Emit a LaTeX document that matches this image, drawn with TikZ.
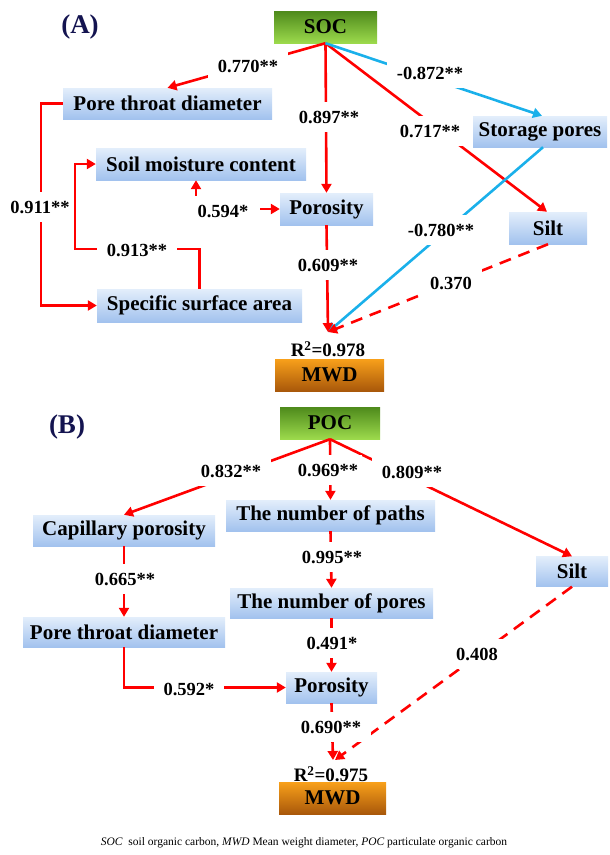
\documentclass[tikz,border=0pt]{standalone}
\usepackage{fontspec}
\setmainfont{Liberation Serif}
\usetikzlibrary{arrows.meta}
\definecolor{bTop}{HTML}{E3EEFB}
\definecolor{bBot}{HTML}{A2C2EE}
\definecolor{gTop}{HTML}{4E8A1C}
\definecolor{gBot}{HTML}{9CDA4C}
\definecolor{oTop}{HTML}{F8A01A}
\definecolor{oBot}{HTML}{A9580A}
\definecolor{lnRed}{HTML}{FF0000}
\definecolor{lnCyan}{HTML}{1AB0EA}
\definecolor{navy}{HTML}{141450}
\tikzset{
  bx/.style={minimum height=31pt, inner sep=0pt, draw=none, top color=bTop, bottom color=bBot,
    font=\bfseries\fontsize{21}{21}\selectfont},
  gbx/.style={bx, top color=gTop, bottom color=gBot},
  obx/.style={bx, top color=oTop, bottom color=oBot},
  lbl/.style={font=\bfseries\fontsize{18.5}{18.5}\selectfont, fill=white, inner xsep=10pt, inner ysep=9pt},
  rtxt/.style={font=\bfseries\fontsize{19}{19}\selectfont, inner sep=0pt},
  ptitle/.style={font=\bfseries\fontsize{27}{27}\selectfont, text=navy},
  rl/.style={draw=lnRed, line width=2.6pt},
  cl/.style={draw=lnCyan, line width=2.6pt},
  tip/.style={-{Triangle[length=9pt,width=10pt]}},
  dsh/.style={dash pattern=on 12pt off 8pt},
}
\begin{document}
\begin{tikzpicture}[x=1pt,y=-1pt]
\useasboundingbox (0,0) rectangle (610,855);
% ---------- (A) ----------
\node[ptitle] (tA) at (80,27) {(A)};
\node[gbx, minimum width=103pt, minimum height=32pt] (soc) at (325.5,27) {SOC};
\node[bx, minimum width=209pt] (ptdA) at (167.5,103.5) {Pore throat diameter};
\node[bx, minimum width=210pt, minimum height=32pt] (smc) at (201,164) {Soil moisture content};
\node[bx, minimum width=93pt, minimum height=32pt] (porA) at (326.5,209) {Porosity};
\node[bx, minimum width=205pt, minimum height=33pt] (ssa) at (199.5,305.5) {Specific surface area};
\node[bx, minimum width=134pt] (stor) at (540,131.5) {Storage pores};
\node[bx, minimum width=78pt, minimum height=32pt] (siltA) at (548,228) {Silt};
\node[obx, minimum width=109pt, minimum height=32pt] (mwdA) at (329.5,375) {MWD};
\node[rtxt] (r2A) at (328,349) {R\textsuperscript{2}=0.978};
\coordinate (inA) at (328,332);
\coordinate (k594) at (196,209);
\coordinate (k913) at (75,249);

\draw[rl,tip] (soc.south) -- (ptdA.north);
\draw[rl,tip] (soc.south) -- (porA.north);
\draw[rl,tip] (soc.south) -- ([xshift=-1pt]siltA.north);
\draw[cl,tip] (soc.south) -- ([xshift=2pt]stor.north);
\draw[cl,tip] ([xshift=3pt]stor.south) -- (inA);
\draw[rl,tip,dsh] (siltA.south) -- (inA);
\draw[rl,tip] (porA.south) -- (inA);
\draw[rl,{Triangle[length=9pt,width=10pt]}-{Triangle[length=9pt,width=10pt]}] (k594 |- smc.south) |- (porA.west);
\draw[rl,tip] (ptdA.west) -- ++(-22,0) |- (ssa.west);
\draw[rl,tip] (ssa.north) |- (k913) |- (smc.west);

\node[lbl] (l770) at (248,66) {0.770**};
\node[lbl] (l897) at (329,117) {0.897**};
\node[lbl] (l717) at (430,131) {0.717**};
\node[lbl] (l872) at (430,73) {-0.872**};
\node[lbl] (l780) at (441,230) {-0.780**};
\node[lbl] (l370) at (451,283) {0.370};
\node[lbl] (l609) at (328,265) {0.609**};
\node[lbl, inner xsep=12pt] (l594) at (223,211) {0.594*};
\node[lbl, inner xsep=2pt] (l911) at (40,207) {0.911**};
\node[lbl] (l913) at (137,250) {0.913**};

% ---------- (B) ----------
\node[ptitle] (tB) at (67,427) {(B)};
\node[gbx, minimum width=100pt, minimum height=32pt] (poc) at (330,423) {POC};
\node[bx, minimum width=182pt] (cap) at (124,530.5) {Capillary porosity};
\node[bx, minimum width=209pt] (paths) at (330.5,515.5) {The number of paths};
\node[bx, minimum width=203pt, minimum height=30pt] (pores) at (331.5,603) {The number of pores};
\node[bx, minimum width=202pt, minimum height=30pt] (ptdB) at (124,632) {Pore throat diameter};
\node[bx, minimum width=72pt, minimum height=30pt] (siltB) at (572,571.5) {Silt};
\node[bx, minimum width=91pt] (porB) at (331.5,687.5) {Porosity};
\node[obx, minimum width=107pt, minimum height=32pt] (mwdB) at (332.5,798) {MWD};
\node[rtxt] (r2B) at (331,774) {R\textsuperscript{2}=0.975};
\coordinate (inB) at (333,760);

\draw[rl,tip] (poc.south) -- (cap.north);
\draw[rl,tip] (poc.south) -- (paths.north);
\draw[rl,tip] (poc.south) -- (siltB.north);
\draw[rl,tip] (paths.south) -- (pores.north);
\draw[rl,tip] (pores.south) -- (porB.north);
\draw[rl,tip] (cap.south) -- (ptdB.north);
\draw[rl,tip] (ptdB.south) |- (porB.west);
\draw[rl,tip] (porB.south) -- (inB);
\draw[rl,tip,dsh] (siltB.south) -- ([xshift=2pt]inB);

\node[lbl] (l832) at (231,471) {0.832**};
\node[lbl, inner xsep=4pt] (l969) at (328,470) {0.969**};
\node[lbl] (l809) at (412,472) {0.809**};
\node[lbl] (l665) at (125,579) {0.665**};
\node[lbl] (l995) at (332,557) {0.995**};
\node[lbl] (l491) at (332,643) {0.491*};
\node[lbl] (l592) at (189,689) {0.592*};
\node[lbl] (l690) at (331,727) {0.690**};
\node[lbl] (l408) at (477,654) {0.408};

\node[font=\fontsize{11.5}{12}\selectfont, inner sep=0pt] (cap0) at (304,843)
  {\textit{SOC}\ \ soil organic carbon, \textit{MWD} Mean weight diameter, \textit{POC} particulate organic carbon};
\end{tikzpicture}
\end{document}
